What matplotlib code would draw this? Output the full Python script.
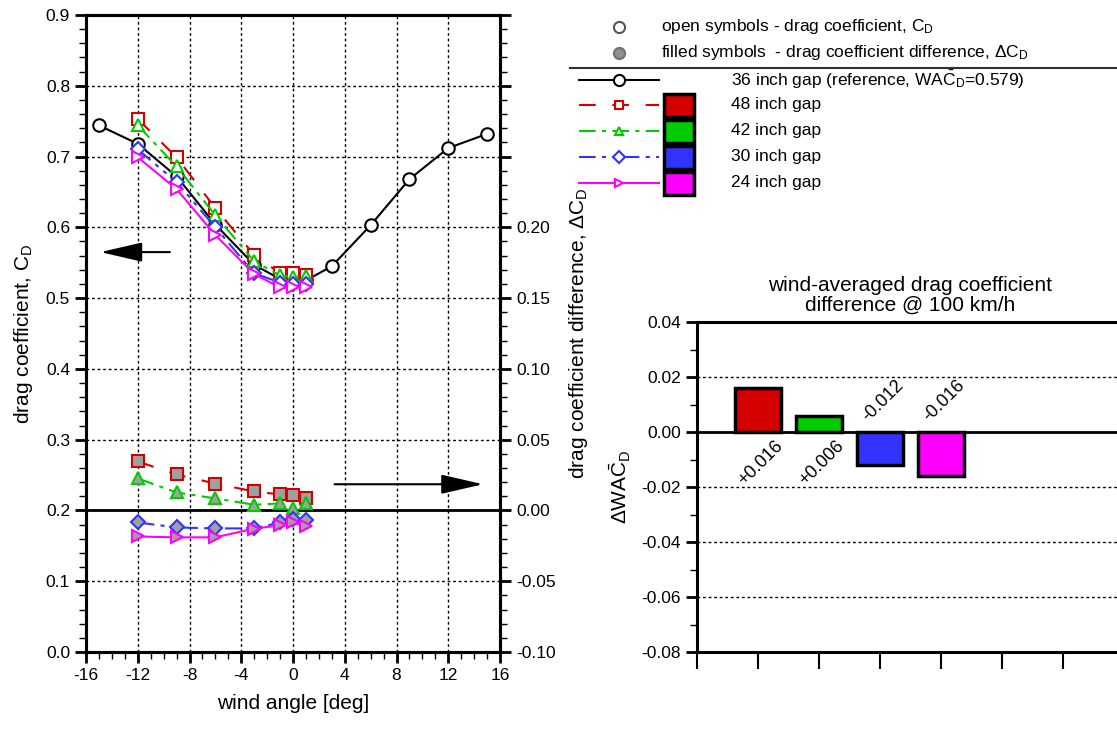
import matplotlib
matplotlib.use('Agg')
import matplotlib.pyplot as plt
from matplotlib.ticker import MultipleLocator, FuncFormatter
from matplotlib.lines import Line2D
from matplotlib.patches import Rectangle

plt.rcParams['font.family'] = ['Liberation Sans', 'DejaVu Sans']
plt.rcParams['mathtext.fontset'] = 'custom'
plt.rcParams['mathtext.rm'] = 'Liberation Sans'
plt.rcParams['mathtext.it'] = 'Liberation Sans:italic'
plt.rcParams['mathtext.default'] = 'regular'
plt.rcParams['axes.unicode_minus'] = False

# ---- data ----
ang_ref = [-15, -12, -9, -6, -3, -1, 0, 1, 3, 6, 9, 12, 15]
cd_ref = [0.744, 0.718, 0.672, 0.604, 0.547, 0.527, 0.526, 0.525, 0.545, 0.603, 0.668, 0.712, 0.732]

ang = [-12, -9, -6, -3, -1, 0, 1]
cd_48 = [0.753, 0.699, 0.627, 0.561, 0.535, 0.535, 0.533]
cd_42 = [0.744, 0.686, 0.617, 0.552, 0.532, 0.530, 0.531]
cd_30 = [0.710, 0.664, 0.600, 0.535, 0.522, 0.520, 0.520]
cd_24 = [0.699, 0.654, 0.589, 0.534, 0.515, 0.515, 0.516]

dcd_48 = [0.0346, 0.0254, 0.0190, 0.0134, 0.0113, 0.0110, 0.0090]
dcd_42 = [0.0226, 0.0127, 0.0085, 0.0040, 0.0050, 0.0015, 0.0050]
dcd_30 = [-0.0085, -0.0120, -0.0127, -0.0127, -0.0085, -0.0058, -0.0070]
dcd_24 = [-0.0184, -0.0190, -0.0190, -0.0128, -0.0106, -0.0085, -0.0113]

gap_labels = ['48 inch gap', '42 inch gap', '30 inch gap', '24 inch gap']
dwac = [0.016, 0.006, -0.012, -0.016]

colors = ['#d40000', '#00cc00', '#3333ff', '#ff00ff']
markers = ['s', '^', 'D', '>']
msizes = [8, 9, 7, 9]
lstyles = [(0, (8, 8)), (0, (8, 3, 2, 3)), (0, (8, 3, 2, 3, 2, 3)), '-']

cd_sets = [cd_48, cd_42, cd_30, cd_24]
dcd_sets = [dcd_48, dcd_42, dcd_30, dcd_24]

W, H = 1117, 730
fig = plt.figure(figsize=(W / 100, H / 100), dpi=100)

def box(x0, y0, x1, y1):
    return [x0 / W, 1 - y1 / H, (x1 - x0) / W, (y1 - y0) / H]

# ---- left chart ----
ax = fig.add_axes(box(86, 15, 500, 652))
ax.set_xlim(-16, 16)
ax.set_ylim(0, 0.9)
ax2 = ax.twinx()
ax2.set_ylim(-0.10, 0.35)

for a in (ax, ax2):
    for s in a.spines.values():
        s.set_linewidth(2.2)

ax.xaxis.set_major_locator(MultipleLocator(4))
ax.xaxis.set_minor_locator(MultipleLocator(1))
ax.yaxis.set_major_locator(MultipleLocator(0.1))
ax.yaxis.set_minor_locator(MultipleLocator(0.02))
ax.yaxis.set_major_formatter(FuncFormatter(lambda v, p: f'{v:.1f}'))
ax.tick_params(which='major', direction='out', length=8, width=2, labelsize=12.5)
ax.tick_params(which='minor', direction='out', length=5, width=1)
ax.grid(True, which='major', linestyle=(0, (2, 2)), color='k', linewidth=1)
ax.axhline(0.2, color='k', lw=2, zorder=2)

ax2.yaxis.set_major_locator(MultipleLocator(0.05))
ax2.yaxis.set_minor_locator(MultipleLocator(0.01))
ax2.yaxis.set_major_formatter(FuncFormatter(lambda v, p: f'{v:.2f}' if v < 0.201 else ''))
ax2.tick_params(which='major', direction='out', length=8, width=2, labelsize=12.5)
ax2.tick_params(which='minor', direction='out', length=5, width=1)

ax.set_xlabel('wind angle [deg]', fontsize=15, labelpad=8)
ax.set_ylabel('drag coefficient, C$_\\mathregular{D}$', fontsize=15, labelpad=8)
ax2.set_ylabel('drag coefficient difference, $\\Delta$C$_\\mathregular{D}$', fontsize=15, labelpad=8)

ax.plot(ang_ref, cd_ref, color='k', lw=1.5, marker='o', ms=9, mfc='white', mec='k', mew=1.5, zorder=3)
for cd, dcd, c, m, ms, ls in zip(cd_sets, dcd_sets, colors, markers, msizes, lstyles):
    ax.plot(ang, cd, color=c, lw=1.5, ls=ls, marker=m, ms=ms, mfc='white', mec=c, mew=1.5, zorder=4)
    ax2.plot(ang, dcd, color=c, lw=1.5, ls=ls, marker=m, ms=ms, mfc='#a0a0a0', mec=c, mew=1.5, zorder=4)

arrow = dict(arrowstyle='-|>,head_length=1.3,head_width=0.3', color='k', lw=1.5, mutation_scale=20)
ax.annotate('', xy=(-15.1, 0.565), xytext=(-9.3, 0.565), arrowprops=arrow)
ax.annotate('', xy=(14.9, 0.237), xytext=(3.0, 0.237), arrowprops=arrow)

# ---- bar chart ----
bx = fig.add_axes(box(697, 322, 1124, 652))
bx.set_xlim(0, 7)
bx.set_ylim(-0.08, 0.04)
for s in bx.spines.values():
    s.set_linewidth(2.2)
pos = [1, 2, 3, 4]
bx.bar(pos, dwac, width=0.77, color=colors, edgecolor='k', linewidth=2.5, zorder=3)
for x, v in zip(pos, dwac):
    ty = -0.0112 if v > 0 else 0.0112
    bx.text(x + 0.05, ty, f'{v:+.3f}', rotation=45, ha='center', va='center', fontsize=13)
bx.xaxis.set_major_locator(MultipleLocator(1))
bx.xaxis.set_major_formatter(FuncFormatter(lambda v, p: ''))
bx.yaxis.set_major_locator(MultipleLocator(0.02))
bx.yaxis.set_minor_locator(MultipleLocator(0.01))
bx.yaxis.set_major_formatter(FuncFormatter(lambda v, p: f'{v:.2f}'))
bx.tick_params(axis='x', which='major', direction='out', length=12, width=1.5)
bx.tick_params(axis='y', which='major', direction='out', length=8, width=2, labelsize=12.5)
bx.tick_params(axis='y', which='minor', direction='out', length=5, width=1)
bx.grid(True, axis='y', linestyle=(0, (2, 2)), color='k', linewidth=1)
bx.axhline(0, color='k', lw=2, zorder=4)
bx.set_ylabel('$\\Delta$WA$\\bar{C}_\\mathregular{D}$', fontsize=15, labelpad=6)
bx.set_title('wind-averaged drag coefficient\ndifference @ 100 km/h', fontsize=15, linespacing=1.05, pad=8)

# ---- legend (figure overlay in pixel units) ----
lg = fig.add_axes([0, 0, 1, 1], facecolor='none')
lg.set_xlim(0, W)
lg.set_ylim(H, 0)
lg.axis('off')
lg.plot([619], [27], marker='o', ms=8, mfc='white', mec='#555555', mew=1.5)
lg.plot([619], [53], marker='o', ms=8, mfc='#909090', mec='#707070', mew=1.5)
lg.text(661, 27, 'open symbols - drag coefficient, C$_\\mathregular{D}$', fontsize=12.5, va='center')
lg.text(661, 53, 'filled symbols  - drag coefficient difference, $\\Delta$C$_\\mathregular{D}$', fontsize=12.5, va='center')
lg.plot([570, W], [68, 68], color='#333333', lw=1.5)

lg.add_line(Line2D([579, 659], [80, 80], color='k', lw=1.5))
lg.plot([619], [80], marker='o', ms=8, mfc='white', mec='k', mew=1.5)
lg.text(731, 80, '36 inch gap (reference, WA$\\bar{C}_\\mathregular{D}$=0.579)', fontsize=12.5, va='center')
rows = [105, 131, 157, 183]
for y, lab, c, m, ls in zip(rows, gap_labels, colors, markers, lstyles):
    lg.add_line(Line2D([579, 659], [y, y], color=c, lw=1.5, ls=ls))
    lg.plot([619], [y], marker=m, ms=6, mfc='white', mec=c, mew=1.5)
    lg.add_patch(Rectangle((664, y - 11), 30, 23, facecolor=c, edgecolor='k', lw=2.5))
    lg.text(731, y, lab, fontsize=12.5, va='center')

fig.savefig('out.png', dpi=100)
